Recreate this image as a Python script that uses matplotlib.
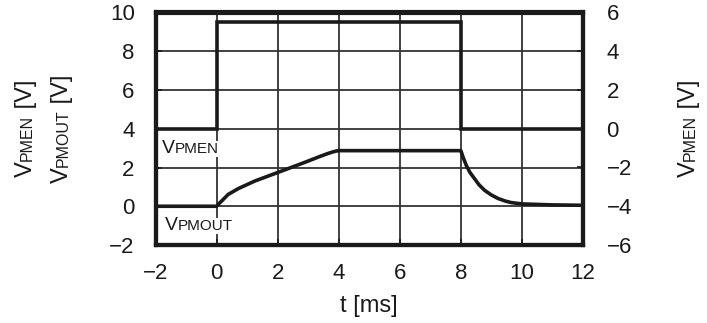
import matplotlib
matplotlib.use("Agg")
import matplotlib.pyplot as plt
from matplotlib.transforms import IdentityTransform

plt.rcParams['font.family'] = ['Liberation Sans', 'DejaVu Sans']

# VPMEN enable pulse (right axis, V)
t_en = [-2, 0, 0, 8, 8, 12]
v_en = [0, 0, 5.5, 5.5, 0, 0]

# VPMOUT response (left axis, V)
t_out = [-2, 0, 0.08, 0.16, 0.38, 0.71, 1.25, 2.0, 2.88, 3.4, 3.64, 3.8, 3.92, 4.0,
         8.0, 8.08, 8.18, 8.3, 8.45, 8.6, 8.78, 9.0, 9.22, 9.45, 9.65, 10.0, 11.0, 12.0]
v_out = [0, 0, 0.14, 0.26, 0.61, 0.91, 1.3, 1.74, 2.26, 2.58, 2.72, 2.8, 2.85, 2.87,
         2.87, 2.5, 2.1, 1.74, 1.42, 1.1, 0.82, 0.58, 0.4, 0.27, 0.19, 0.12, 0.07, 0.05]

x_ticks = [-2, 0, 2, 4, 6, 8, 10, 12]
left_ticks = [-2, 0, 2, 4, 6, 8, 10]
right_ticks = [-6, -4, -2, 0, 2, 4, 6]

W, H = 707, 323
fig = plt.figure(figsize=(W / 100, H / 100), dpi=100)
ax = fig.add_axes([155.5 / W, 1 - 245 / H, (583 - 155.5) / W, (245 - 12.5) / H])
ax2 = ax.twinx()

ax.set_xlim(-2, 12)
ax.set_ylim(-2, 10)
ax2.set_ylim(-6, 6)
ax.set_xticks(x_ticks)
ax.set_yticks(left_ticks)
ax2.set_yticks(right_ticks)

ax.grid(True, color='#333333', linewidth=1.3)
ax.set_axisbelow(True)

ax.plot(t_out, v_out, color='#1a1a1a', linewidth=2.6, solid_capstyle='butt')
ax2.plot(t_en, v_en, color='#1a1a1a', linewidth=2.6, solid_joinstyle='miter')

for a in (ax, ax2):
    for s in a.spines.values():
        s.set_linewidth(3.0)
        s.set_color('#1a1a1a')
ax.tick_params(axis='both', direction='in', length=4, width=1.2, labelsize=16, colors='#1a1a1a')
ax.tick_params(axis='y', pad=15)
ax.tick_params(axis='x', pad=13)
ax2.tick_params(axis='y', direction='in', length=4, width=1.2, labelsize=16, pad=17, colors='#1a1a1a')

ax.set_xlabel('t [ms]', fontsize=17, labelpad=8, color='#1a1a1a')

renderer = fig.canvas.get_renderer()


def label_run(x, y, parts, rotation=0, box=False):
    # lay out text pieces of mixed size along one baseline, in pixels
    for s, size in parts:
        kw = {}
        if box:
            kw['bbox'] = dict(facecolor='white', edgecolor='none', pad=0.5)
        t = fig.text(x, y, s, transform=IdentityTransform(), fontsize=size,
                     rotation=rotation, rotation_mode='anchor',
                     ha='left', va='baseline', color='#1a1a1a', **kw)
        bb = t.get_window_extent(renderer)
        if rotation == 90:
            y += bb.height
        else:
            x += bb.width


big, small = 17, 11.5
label_run(32, H - 177, [('V', big), ('PMEN', small), (' [V]', big)], rotation=90)
label_run(68, H - 183, [('V', big), ('PMOUT', small), (' [V]', big)], rotation=90)
label_run(695, H - 177, [('V', big), ('PMEN', small), (' [V]', big)], rotation=90)

label_run(161.7, H - 153, [('V', 14), ('PMEN', 11)], box=True)
label_run(165, H - 230, [('V', 14), ('PMOUT', 11)], box=True)

fig.savefig('out.png', dpi=100)
